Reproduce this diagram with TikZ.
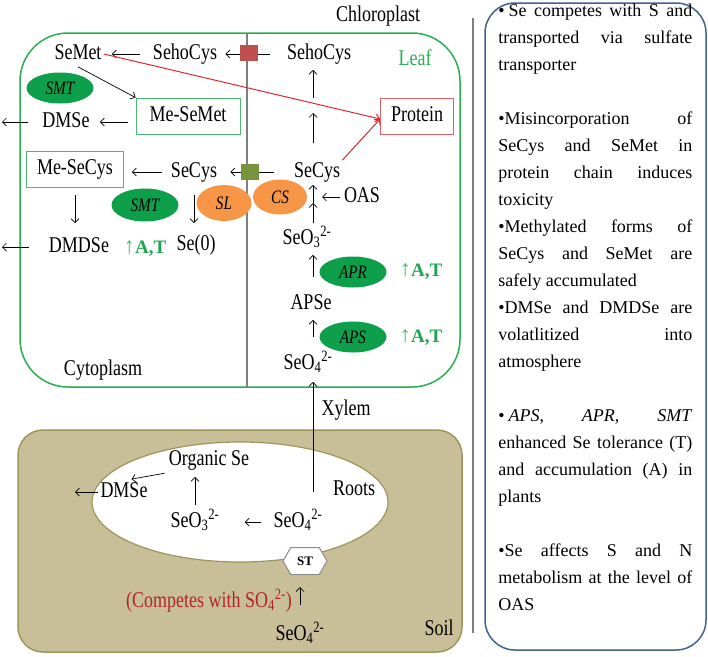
\documentclass[tikz,border=0pt]{standalone}
\usepackage{fontspec}
\setmainfont{Liberation Serif}
\newfontfamily\slimserif[FakeStretch=0.8]{Liberation Serif}
\usetikzlibrary{shapes.geometric, shapes.symbols, arrows.meta}

\definecolor{leafgreen}{HTML}{27AE4F}
\definecolor{enzgreen}{HTML}{0E9F4A}
\definecolor{boxgreen}{HTML}{4CB870}
\definecolor{lyaseorange}{HTML}{F79646}
\definecolor{gatered}{HTML}{C0504D}
\definecolor{gategreen}{HTML}{77933C}
\definecolor{arrowred}{HTML}{E0262B}
\definecolor{proteinred}{HTML}{DC6464}
\definecolor{soilfill}{HTML}{C8BF98}
\definecolor{soilline}{HTML}{9C955C}
\definecolor{notesblue}{HTML}{41618F}
\definecolor{divgray}{HTML}{7F7F7F}
\definecolor{atgreen}{HTML}{1FA450}
\definecolor{upgreen}{HTML}{45C070}
\definecolor{competered}{HTML}{B3242B}
\definecolor{stgray}{HTML}{8C8C8C}

\begin{document}
\begin{tikzpicture}[
			x=1pt, y=-1pt, line width=0.7pt,
			>={Straight Barb[length=4pt, width=8pt]},
			main/.style = {font=\slimserif\fontsize{22.5}{27}\selectfont, inner sep=2pt, text height=16pt, text depth=5pt},
			enz/.style = {ellipse, fill=enzgreen, inner sep=0pt, minimum width=67pt, minimum height=31pt, font=\slimserif\itshape\fontsize{19}{23}\selectfont},
			lyase/.style = {ellipse, fill=lyaseorange, inner sep=0pt, minimum width=55pt, minimum height=36pt, font=\slimserif\itshape\fontsize{19}{23}\selectfont},
			mbox/.style = {main, draw=boxgreen, line width=0.8pt, minimum height=36pt},
			gate/.style = {inner sep=0pt, minimum width=18pt, minimum height=16pt},
			gain/.style = {font=\fontsize{19}{23}\selectfont\bfseries, text=atgreen, inner sep=0pt}
		]
		\useasboundingbox (0,0) rectangle (708,656);
		\draw[soilline, fill=soilfill, line width=1.5pt, rounded corners=25pt] (18,430) rectangle (462,652);
		\draw[soilline, fill=white, line width=1.2pt] (240,502) ellipse [x radius=148pt, y radius=60pt];
		\draw[leafgreen, line width=1.5pt, rounded corners=48pt] (20,33) rectangle (460,387);
		\draw[divgray, line width=1.5pt] (247,33) -- (247,387);
		\draw[divgray, line width=1.5pt] (473,18) -- (473,633);
		\draw[notesblue, line width=1.5pt, rounded corners=30pt] (485,3) rectangle (706,650);
		\node[main] (1) at (78,54) {SeMet};
		\node[main] (2) at (185,54) {SehoCys};
		\node[main] (3) at (319,54) {SehoCys};
		\node[mbox, minimum width=104pt] (4) at (188,116) {Me-SeMet};
		\node[main] (5) at (66,122) {DMSe};
		\node[main, draw=proteinred, line width=0.8pt, minimum width=73pt, minimum height=36pt] (6) at (417,116) {Protein};
		\node[mbox, minimum width=97pt] (7) at (75,169) {Me-SeCys};
		\node[main] (8) at (194,172) {SeCys};
		\node[main] (9) at (317,172) {SeCys};
		\node[main] (10) at (362,197) {OAS};
		\node[main] (11) at (79,247) {DMDSe};
		\node[main] (12) at (196,245) {Se(0)};
		\node[main] (13) at (307,239) {SeO\textsubscript{3}\textsuperscript{2-}};
		\node[main] (14) at (311,304) {APSe};
		\node[main] (15) at (308,364) {SeO\textsubscript{4}\textsuperscript{2-}};
		\node[main] (16) at (209,460) {Organic Se};
		\node[main] (17) at (124,492) {DMSe};
		\node[main] (18) at (195,522) {SeO\textsubscript{3}\textsuperscript{2-}};
		\node[main] (19) at (298,522) {SeO\textsubscript{4}\textsuperscript{2-}};
		\node[main] (20) at (354,490) {Roots};
		\node[signal, signal to=east and west, signal pointer angle=120, draw=stgray, fill=white, line width=1pt, minimum width=44pt, minimum height=27pt, inner sep=1pt, font=\bfseries\fontsize{13}{15}\selectfont] (21) at (305,561) {ST};
		\node[main, text=competered] (22) at (209,602) {(Competes with SO\textsubscript{4}\textsuperscript{2-})};
		\node[main] (23) at (300,635) {SeO\textsubscript{4}\textsuperscript{2-}};
		\node[enz] (24) at (60,88) {SMT};
		\node[enz, minimum height=33pt] (25) at (145,205) {SMT};
		\node[lyase] (26) at (224,203) {SL};
		\node[lyase, minimum width=54pt, minimum height=35pt] (27) at (280,197) {CS};
		\node[enz] (28) at (353,272) {APR};
		\node[enz] (29) at (353,337) {APS};
		\node[gain] (32) at (145,249) {{\mdseries\fontsize{23}{23}\selectfont\color{upgreen}↑}A,T};
		\node[gain] (33) at (421,272) {{\mdseries\fontsize{23}{23}\selectfont\color{upgreen}↑}A,T};
		\node[gain] (34) at (421,337) {{\mdseries\fontsize{23}{23}\selectfont\color{upgreen}↑}A,T};
		\node[main] (35) at (378,16) {Chloroplast};
		\node[main, text=leafgreen] (36) at (415,60) {Leaf};
		\node[main] (37) at (103,370) {Cytoplasm};
		\node[main] (38) at (346,410) {Xylem};
		\node[main] (39) at (439,630) {Soil};
		\node[anchor=north west, inner sep=0pt, text width=194pt, align=justify, font=\fontsize{18}{27}\selectfont] (40) at (498,4) {%
			•\hspace{4pt}Se competes with S and\linebreak transported via sulfate\linebreak transporter\par\vspace{27pt}
			•Misincorporation of\linebreak SeCys and SeMet in\linebreak protein chain induces\linebreak toxicity\par
			•Methylated forms of\linebreak SeCys and SeMet are\linebreak safely accumulated\par
			•DMSe and DMDSe are\linebreak volatlitized into\linebreak atmosphere\par\vspace{27pt}
			•\hspace{4pt}\textit{APS}, \textit{APR}, \textit{SMT}\linebreak enhanced Se tolerance (T)\linebreak and accumulation (A) in\linebreak plants\par\vspace{27pt}
			•Se affects S and N\linebreak metabolism at the level of\linebreak OAS};
		\coordinate (c1) at (2,122);
		\coordinate (c2) at (2,247);
		\coordinate (c3) at (75,492);
		\coordinate (m1) at (313,106);
		\coordinate (m2) at (313,203);
		\coordinate (m3) at (313,197);
		\coordinate (x1) at (313,492);
		\coordinate (col) at (313,0);
		\draw[->, shorten <=14pt, shorten >=3pt] (15.north -| col) -- (14.south -| col);
		\draw[->, shorten <=14pt, shorten >=3pt] (14.north -| col) -- (13.south -| col);
		\draw[->, shorten <=3pt] (13.north -| col) -- (m2);
		\draw[->] (m2) -- (9.south -| col);
		\draw[->, shorten <=16pt, shorten >=7pt] (9.north -| col) -- (m1);
		\draw[->, shorten <=8pt, shorten >=3pt] (m1) -- (3.south -| col);
		\draw[->, shorten <=2pt, shorten >=9pt] (10.west) -- (m3);
		\draw[->, shorten >=5pt] (x1) -- (15.south -| x1);
		\draw[->, shorten <=11pt, shorten >=8pt] (2.west) -- (1.east);
		\draw[->, shorten <=15pt, shorten >=6pt] (3.west) -- (2.east);
		\draw[->] (1.south) -- (4.north west);
		\draw[->, shorten <=8pt, shorten >=8pt] (4.west |- 5) -- (5.east);
		\draw[->, shorten <=12pt] (5.west) -- (c1);
		\draw[->, shorten <=7pt, shorten >=8pt] (8.west) -- (7.east |- 8);
		\draw[->, shorten <=18pt, shorten >=11pt] (9.west) -- (8.east);
		\draw[->, shorten <=8pt, shorten >=11pt] (7.south) -- (7.south |- 11.north);
		\draw[->, shorten <=10pt, shorten >=9pt] (8.south) -- (8.south |- 12.north);
		\draw[->, shorten <=18pt] (11.west) -- (c2);
		\draw[arrowred, line width=1pt, ->] (1.east) -- ([yshift=-3pt]6.west);
		\draw[arrowred, line width=1pt, ->] (9.25) -- ([yshift=-3pt]6.west);
		\draw[->, shorten <=2pt] (16.south west) -- (17.60);
		\draw[->] (17.west) -- (c3);
		\draw[->, shorten <=4pt, shorten >=4pt] (18.north) -- (18.north |- 16.south);
		\draw[->, shorten <=10pt, shorten >=23pt] (19.west) -- (18.east);
		\draw[->, shorten <=17pt, shorten >=12pt] (23.north) -- (23.north |- 21.south);
		\node[gate, fill=gatered] (30) at (249,53) {};
		\node[gate, fill=gategreen] (31) at (250,172) {};
	\end{tikzpicture}
\end{document}
